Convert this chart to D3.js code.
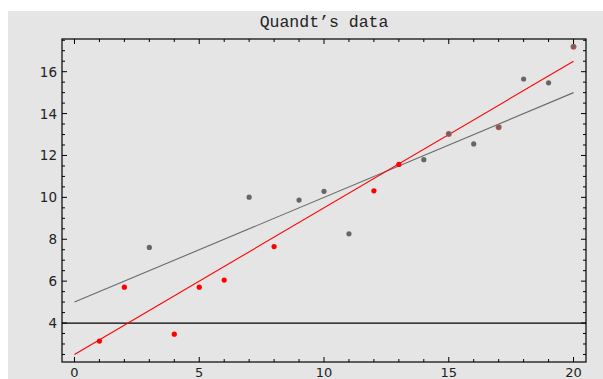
<!DOCTYPE html>
<html><head><meta charset="utf-8">
<script src="https://cdn.jsdelivr.net/npm/d3@7"></script>
<style>body{margin:0;background:#fff;}svg{display:block;}</style>
</head><body>
<script>
const xs = [1,2,3,4,5,6,7,8,9,10,11,12,13,14,15,16,17,18,19,20];
const ys = [3.14,5.71,7.61,3.47,5.71,6.05,10.01,7.65,9.87,10.29,8.26,10.31,11.57,11.80,13.03,12.55,13.35,15.65,15.47,17.19];
const redIdx = [1,2,4,5,6,8,12,13];
const bothIdx = [15,17,20];
const grayLine = [[0,5],[20,15]];
const redLine = [[0,2.5],[20,16.5]];
const refLine = 4;
const yTickLabels = [4,6,8,10,12,14,16];
const xTickLabels = [0,5,10,15,20];
const title = "Quandt\u2019s data";

const W=603,H=379;
const svg=d3.select("body").append("svg").attr("width",W).attr("height",H);
svg.append("rect").attr("x",8).attr("y",11).attr("width",W-8).attr("height",H-11).attr("fill","#e5e5e5");
const L=62,R=586,T=39,B=362;
const x=d3.scaleLinear().domain([-0.5,20.5]).range([L,R]);
const y=d3.scaleLinear().domain([2.14,17.56]).range([B,T]);

const line=d3.line().x(d=>x(d[0])).y(d=>y(d[1]));
svg.append("line").attr("x1",L).attr("x2",R).attr("y1",y(refLine)).attr("y2",y(refLine)).attr("stroke","#000").attr("stroke-width",1.2);
svg.append("path").attr("d",line(grayLine)).attr("stroke","#6a6a6a").attr("fill","none").attr("stroke-width",1.1);
svg.append("path").attr("d",line(redLine)).attr("stroke","#ff0000").attr("fill","none").attr("stroke-width",1.1);

const pts=xs.map((v,i)=>({x:v,y:ys[i]}));
pts.forEach(p=>{
  if(bothIdx.includes(p.x)){
    svg.append("circle").attr("cx",x(p.x)).attr("cy",y(p.y)).attr("r",3).attr("fill","#e05050");
    svg.append("circle").attr("cx",x(p.x)).attr("cy",y(p.y)).attr("r",2.3).attr("fill","#666");
  } else {
    svg.append("circle").attr("cx",x(p.x)).attr("cy",y(p.y)).attr("r",2.6).attr("fill",redIdx.includes(p.x)?"#ff0000":"#666");
  }
});

svg.append("rect").attr("x",L).attr("y",T).attr("width",R-L).attr("height",B-T).attr("fill","none").attr("stroke","#000").attr("stroke-width",1.2);

const g=svg.append("g").attr("stroke","#000").attr("stroke-width",1);
d3.range(0,21,1).forEach(v=>{
  const len = v%5===0?5:3;
  g.append("line").attr("x1",x(v)).attr("x2",x(v)).attr("y1",B).attr("y2",B-len);
  g.append("line").attr("x1",x(v)).attr("x2",x(v)).attr("y1",T).attr("y2",T+len);
});
d3.range(2.5,17.51,0.5).forEach(v=>{
  const major = Math.abs(v%2)<1e-6;
  const len = major?5:3;
  g.append("line").attr("y1",y(v)).attr("y2",y(v)).attr("x1",L).attr("x2",L+len);
  g.append("line").attr("y1",y(v)).attr("y2",y(v)).attr("x1",R).attr("x2",R-len);
});

svg.selectAll(".yl").data(yTickLabels).enter().append("text")
  .attr("x",L-5).attr("y",d=>y(d)+5).attr("text-anchor","end")
  .attr("font-family","DejaVu Sans, sans-serif").attr("font-size",13.5).attr("fill","#222").text(d=>d);
svg.selectAll(".xl").data(xTickLabels).enter().append("text")
  .attr("x",d=>x(d)).attr("y",B+15).attr("text-anchor","middle")
  .attr("font-family","DejaVu Sans, sans-serif").attr("font-size",13).attr("fill","#222").text(d=>d);
svg.append("text").attr("x",(L+R)/2).attr("y",27).attr("text-anchor","middle")
  .attr("font-family","Liberation Mono, Courier New, monospace").attr("font-size",16.5).attr("fill","#222").text(title);
</script>
</body></html>
